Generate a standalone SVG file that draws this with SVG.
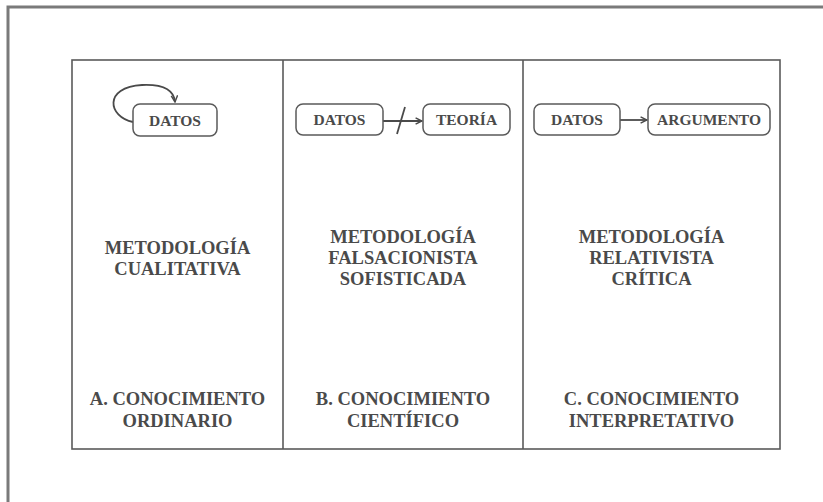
<svg xmlns="http://www.w3.org/2000/svg" width="823" height="502" viewBox="0 0 823 502">
<style>
.frame{fill:none;stroke:#7a7a7a;stroke-width:3}
.box{fill:none;stroke:#5a5a5a;stroke-width:1.6}
.node{fill:#fff;stroke:#5a5a5a;stroke-width:1.5}
.lbl{font-family:"Liberation Serif","Times New Roman",serif;font-weight:bold;fill:#4a4a4a;text-anchor:middle}
.big{font-size:18.5px}
.sm{font-size:15.5px}
.edge{fill:none;stroke:#4a4a4a;stroke-width:1.8}
</style>
<defs>
<marker id="ah" viewBox="0 0 10 10" refX="9" refY="5" markerWidth="8" markerHeight="8" markerUnits="userSpaceOnUse" orient="auto">
<path d="M1,1 L9,5 L1,9" fill="none" stroke="#4a4a4a" stroke-width="1.8"/>
</marker>
</defs>
<rect width="823" height="502" fill="#fff"/>
<path class="frame" d="M8,502 V7 H823"/>
<g id="panel">
<rect class="box" x="72" y="60" width="708" height="389"/>
<line class="box" x1="283" y1="60" x2="283" y2="449"/>
<line class="box" x1="523" y1="60" x2="523" y2="449"/>
</g>
<g id="connectors">
<path class="edge" d="M133,122 C108,117 103,87 142,85 C164,84 174,91 175,102" marker-end="url(#ah)"/>
<line class="edge" x1="383" y1="121" x2="422" y2="121" marker-end="url(#ah)"/>
<line class="edge" x1="397" y1="134" x2="405" y2="107"/>
<line class="edge" x1="620" y1="120" x2="647" y2="120" marker-end="url(#ah)"/>
</g>
<g id="a-datos">
<rect class="node" x="133" y="104" width="84" height="32" rx="7"/>
<text class="lbl sm" x="175" y="125.5">DATOS</text>
</g>
<g id="b-datos">
<rect class="node" x="296" y="104" width="87" height="31" rx="7"/>
<text class="lbl sm" x="339.5" y="125">DATOS</text>
</g>
<g id="b-teoria">
<rect class="node" x="423" y="104" width="87" height="31" rx="7"/>
<text class="lbl sm" x="466.5" y="125">TEORÍA</text>
</g>
<g id="c-datos">
<rect class="node" x="534" y="104" width="86" height="31" rx="7"/>
<text class="lbl sm" x="577" y="125">DATOS</text>
</g>
<g id="c-argumento">
<rect class="node" x="648" y="104" width="122" height="31" rx="7"/>
<text class="lbl sm" x="709" y="125">ARGUMENTO</text>
</g>
<g id="a-metodologia">
<text class="lbl big" x="177.5" y="253.5">METODOLOGÍA</text>
<text class="lbl big" x="177.5" y="274.5">CUALITATIVA</text>
</g>
<g id="b-metodologia">
<text class="lbl big" x="403" y="242.5">METODOLOGÍA</text>
<text class="lbl big" x="403" y="263.5">FALSACIONISTA</text>
<text class="lbl big" x="403" y="284.5">SOFISTICADA</text>
</g>
<g id="c-metodologia">
<text class="lbl big" x="651.5" y="242.5">METODOLOGÍA</text>
<text class="lbl big" x="651.5" y="263.5">RELATIVISTA</text>
<text class="lbl big" x="651.5" y="284.5">CRÍTICA</text>
</g>
<g id="a-conocimiento">
<text class="lbl big" x="177.5" y="404.5">A. CONOCIMIENTO</text>
<text class="lbl big" x="177.5" y="426.5">ORDINARIO</text>
</g>
<g id="b-conocimiento">
<text class="lbl big" x="403" y="404.5">B. CONOCIMIENTO</text>
<text class="lbl big" x="403" y="426.5">CIENTÍFICO</text>
</g>
<g id="c-conocimiento">
<text class="lbl big" x="651.5" y="404.5">C. CONOCIMIENTO</text>
<text class="lbl big" x="651.5" y="426.5">INTERPRETATIVO</text>
</g>
</svg>
